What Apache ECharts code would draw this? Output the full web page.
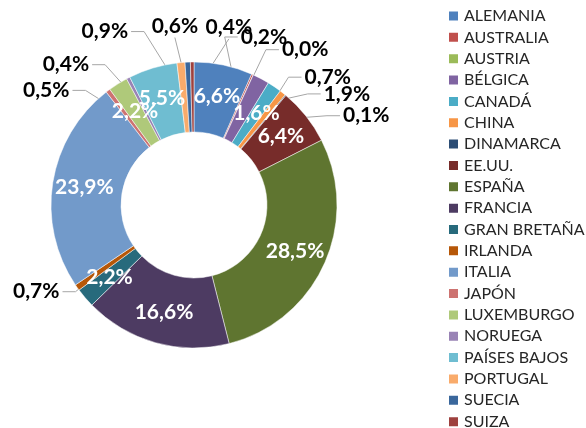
<!DOCTYPE html>
<html><head><meta charset="utf-8">
<script src="https://cdn.jsdelivr.net/npm/echarts@6/dist/echarts.min.js"></script>
<style>html,body{margin:0;padding:0;background:#fff}#c{width:586px;height:428px}</style>
</head><body><div id="c"></div>
<script>
var categories = ['ALEMANIA','AUSTRALIA','AUSTRIA','BÉLGICA','CANADÁ','CHINA','DINAMARCA','EE.UU.','ESPAÑA','FRANCIA','GRAN BRETAÑA','IRLANDA','ITALIA','JAPÓN','LUXEMBURGO','NORUEGA','PAÍSES BAJOS','PORTUGAL','SUECIA','SUIZA'];
var values = [6.6,0.2,0.0,1.9,1.6,0.7,0.1,6.4,28.5,16.6,2.2,0.7,23.9,0.5,2.2,0.4,5.5,0.9,0.6,0.4];
var colors = ['#4F81BD','#C0504D','#9BBB59','#8064A2','#4BACC6','#F79646','#2C4D75','#772C2A','#5F7530','#4D3B62','#276A7C','#B65708','#729ACA','#CD7371','#AFC97A','#9983B5','#6FBDD1','#F9AB6B','#3A679C','#9E413E'];
var insideLabels = ['ALEMANIA','CANADÁ','EE.UU.','ESPAÑA','FRANCIA','GRAN BRETAÑA','ITALIA','LUXEMBURGO','PAÍSES BAJOS'];

// label placement for outside labels: [angle deg clockwise from top, distance from centre]
var labelPolar = {
  'AUSTRALIA':[22.6,182], 'AUSTRIA':[35.6,191], 'BÉLGICA':[54,189], 'CHINA':[46.3,185],
  'DINAMARCA':[62.6,194], 'IRLANDA':[-118.8,180], 'JAPÓN':[-52.2,187], 'NORUEGA':[-42.4,190],
  'PORTUGAL':[-27.2,195], 'SUECIA':[-6.1,180], 'SUIZA':[11.1,181]
};
var topLabels = ['SUECIA','SUIZA'];

var CX = 194, CY = 205, R_IN = 73, R_OUT = 143, ANCHOR_R = 110;
var total = values.reduce(function(a,b){return a+b;},0);
var midAngles = [];
(function(){ var cum = 0; values.forEach(function(v){ midAngles.push((cum + v/2)/total*360); cum += v; }); })();
function polar(angDeg, r){ var a = angDeg*Math.PI/180; return [CX + r*Math.sin(a), CY - r*Math.cos(a)]; }

var font = 'Lato, "Open Sans", sans-serif';
var data = categories.map(function(c,i){
  var inside = insideLabels.indexOf(c) >= 0;
  return {
    name: c, value: values[i],
    itemStyle: {color: colors[i]},
    label: inside ? {position:'inside', color:'#fff', fontSize:21, fontWeight:'bold', fontFamily:font}
                  : {position:'outside', color:'#000', fontSize:21, fontWeight:'bold', fontFamily:font, overflow:'none'},
    labelLine: {show: !inside}
  };
});
var chart = echarts.init(document.getElementById('c'));
chart.setOption({
  animation:false,
  color: colors,
  legend: {
    orient:'vertical', left:442, top:3, height:600, itemWidth:11, itemHeight:11, itemGap:5.35,
    icon:'rect', textStyle:{fontSize:16, color:'#262626', fontFamily:font, lineHeight:16},
    data: categories
  },
  series:[{
    type:'pie', center:[CX,CY], radius:[R_IN,R_OUT], startAngle:90, clockwise:true,
    avoidLabelOverlap:false,
    itemStyle:{borderColor:'#fff', borderWidth:0.5},
    label:{formatter:function(p){return p.value.toFixed(1).replace('.',',')+'%';}, overflow:'none'},
    labelLine:{length:10, length2:10, lineStyle:{color:'#A6A6A6', width:1}},
    labelLayout:function(params){
      var name = categories[params.dataIndex];
      var pl = labelPolar[name];
      if (!pl) return {};
      var pos = polar(pl[0], pl[1]);
      var anchor = polar(midAngles[params.dataIndex], ANCHOR_R);
      var w = params.labelRect.width, h = params.labelRect.height;
      var pts;
      if (topLabels.indexOf(name) >= 0) {
        var end = [pos[0], pos[1] + h/2 + 1];
        pts = [anchor, [(anchor[0]+end[0])/2, (anchor[1]+end[1])/2], end];
      } else {
        var right = pos[0] > anchor[0];
        var ex = right ? pos[0] - w/2 - 3 : pos[0] + w/2 + 3;
        var elbow = right ? ex - 13 : ex + 13;
        pts = [anchor, [elbow, pos[1]], [ex, pos[1]]];
      }
      return {x: pos[0], y: pos[1], align:'center', verticalAlign:'middle', labelLinePoints: pts};
    },
    data:data
  }]
});
</script></body></html>
